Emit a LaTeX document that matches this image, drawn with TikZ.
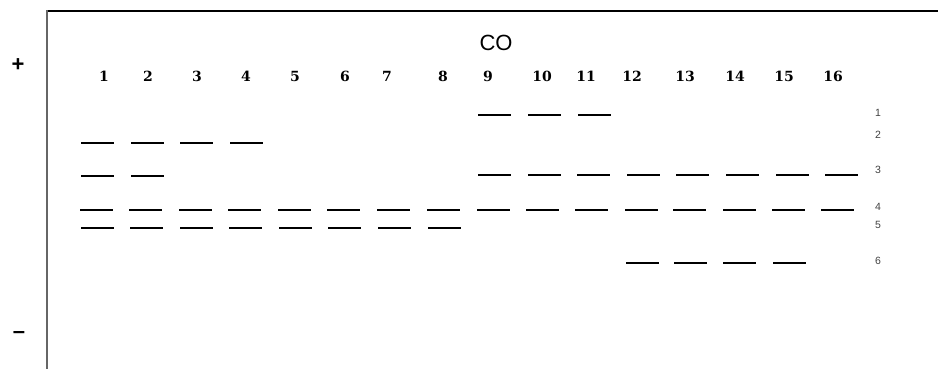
\documentclass[tikz,border=0pt]{standalone}
\usepackage{fontspec}
\newfontfamily\labsans{Liberation Sans}
\newfontfamily\laneserif{DejaVu Serif}
\begin{document}
\begin{tikzpicture}[x=1pt,y=-1pt,
  band/.style={line width=2pt,black},
  lane/.style={font=\laneserif\fontsize{14}{14}\selectfont\bfseries,inner sep=0pt,anchor=center},
  rowlab/.style={font=\labsans\fontsize{10.5}{10.5}\selectfont,text=black!75,inner sep=0pt,anchor=center},
  pole/.style={font=\labsans\fontsize{22}{22}\selectfont\bfseries,inner sep=0pt,anchor=center}]
\useasboundingbox (0,0) rectangle (938,369);
% frame
\draw[line width=1.2pt,black] (47,11) -- (938,11);
\draw[line width=2pt,black!60] (47,10.4) -- (47,369);
% poles
\node[pole] (plus) at (18,65) {+};
\node[pole] (minus) at (19,335) {–};
% title
\node[font=\labsans\fontsize{22}{22}\selectfont,inner sep=0pt] (co) at (496,43) {CO};
% lane numbers
\foreach \n/\x in {1/104,2/148,3/197,4/246,5/295,6/345,7/387,8/443,9/488,10/542,11/586,12/632,13/685,14/735,15/784,16/833}
  \node[lane] (l\n) at (\x,76) {\n};
% row labels
\foreach \n/\y in {1/113,2/135,3/170,4/207,5/225,6/261}
  \node[rowlab] (r\n) at (878,\y) {\n};
% row 1
\foreach \a in {478,528,578}
  \draw[band] (\a,115) -- ++(33,0);
% row 2
\foreach \a in {81,131,180,230}
  \draw[band] (\a,143) -- ++(33,0);
% row 3
\foreach \a in {81,131}
  \draw[band] (\a,176) -- ++(33,0);
\foreach \a in {478,528,577,627,676,726,776,825}
  \draw[band] (\a,175) -- ++(33,0);
% row 4
\foreach \a in {80,129,179,228,278,327,377,427,477,526,575,625,673,723,772,821}
  \draw[band] (\a,210) -- ++(33,0);
% row 5
\foreach \a in {81,130,180,229,279,328,378,428}
  \draw[band] (\a,228) -- ++(33,0);
% row 6
\foreach \a in {626,674,723,773}
  \draw[band] (\a,263) -- ++(33,0);
\end{tikzpicture}
\end{document}
